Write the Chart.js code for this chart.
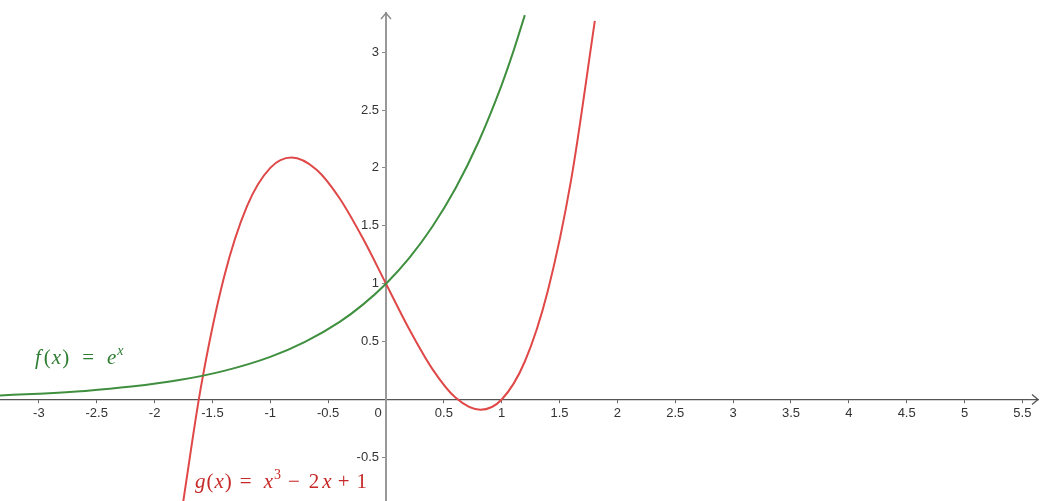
<!DOCTYPE html>
<html>
<head>
<meta charset="utf-8">
<script src="https://cdn.jsdelivr.net/npm/chart.js@4/dist/chart.umd.min.js"></script>
<style>
body{margin:0;background:#fff;}
#wrap{width:1045px;height:501px;position:relative;}
</style>
</head>
<body>
<div id="wrap"><canvas id="grafica"></canvas></div>
<script>
// f(x) = e^x
const fX=[-3.34,-3.0,-2.6,-2.2,-1.8,-1.4,-1.0,-0.7,-0.4,-0.2,0,0.2,0.4,0.6,0.8,1.0,1.1,1.2];
const fY=[0.035,0.050,0.074,0.111,0.165,0.247,0.368,0.497,0.670,0.819,1.0,1.221,1.492,1.822,2.226,2.718,3.004,3.32];

// g(x) = x^3 - 2x + 1
const gX=[-1.76,-1.6,-1.4,-1.2,-1.0,-0.816,-0.6,-0.4,-0.2,0,0.2,0.4,0.6,0.816,1.0,1.2,1.4,1.6,1.805];
const gY=[-0.932,0.104,1.056,1.672,2.0,2.089,1.984,1.736,1.392,1.0,0.608,0.264,0.016,-0.089,0,0.328,0.944,1.896,3.27];

const xRange=[-3.336,5.635];
const yRange=[-0.877,3.338];
const tickStep=0.5;

const verde='#3f8f3f';
const rojo='#e04848';

function puntos(xs,ys){
    return xs.map((x,i)=>({x:x,y:ys[i]}));
}

// etiquetas tipo latex (g = hueco antes de cada trozo)
const etiquetaF=[
    {t:'f',i:true,g:0},{t:'(',g:3},{t:'x',i:true,g:1},{t:')',g:1},{t:'=',g:13},{t:'e',i:true,g:13},{t:'x',i:true,sup:true,g:1}
];
const etiquetaG=[
    {t:'g',i:true,g:0},{t:'(',g:1},{t:'x',i:true,g:1},{t:')',g:1},{t:'=',g:8},{t:'x',i:true,g:12},{t:'3',sup:true,g:1},
    {t:'−',g:7},{t:'2',g:9},{t:'x',i:true,g:3},{t:'+',g:6},{t:'1',g:7}
];

function escribir(ctx,partes,x,y,color){
    ctx.save();
    ctx.fillStyle=color;
    ctx.textBaseline='alphabetic';
    partes.forEach(p=>{
        let size=p.sup?14:21;
        ctx.font=(p.i?'italic ':'')+size+'px "Liberation Serif", "DejaVu Serif", serif';
        x+=p.g;
        ctx.fillText(p.t,x,p.sup?y-9:y);
        x+=ctx.measureText(p.t).width;
    });
    ctx.restore();
}

const extras={
    id:'extras',
    beforeDraw(chart){
        // etiquetas del eje y a la izquierda del eje, el 0 del eje x un poco a la izquierda
        chart.scales.y.getLabelItems().forEach(it=>{
            it.options.translation[0]-=7;
        });
        chart.scales.x.getLabelItems().forEach(it=>{
            if(it.label==='0') it.options.translation[0]-=8;
        });
    },
    afterDraw(chart){
        const ctx=chart.ctx;
        const a=chart.chartArea;
        const x0=chart.scales.x.getPixelForValue(0);
        const y0=chart.scales.y.getPixelForValue(0);
        ctx.save();
        ctx.lineWidth=1.3;
        ctx.strokeStyle='#888';
        ctx.beginPath();
        ctx.moveTo(x0-5,a.top+6);
        ctx.lineTo(x0,a.top);
        ctx.lineTo(x0+5,a.top+6);
        ctx.stroke();
        ctx.strokeStyle='#555';
        ctx.beginPath();
        ctx.moveTo(a.right-6,y0-5);
        ctx.lineTo(a.right,y0);
        ctx.lineTo(a.right-6,y0+5);
        ctx.stroke();
        ctx.restore();
        escribir(ctx,etiquetaF,35,364,'#2e7d32');
        escribir(ctx,etiquetaG,195,488,'#c62828');
    }
};

window.onload=function(){
    const ctx=document.getElementById("grafica");
    new Chart(ctx,{
        type:'scatter',
        data:{
            datasets:[{
                data:puntos(fX,fY),
                showLine:true,
                borderColor:verde,
                borderWidth:2,
                pointRadius:0,
                cubicInterpolationMode:'monotone'
            },{
                data:puntos(gX,gY),
                showLine:true,
                borderColor:rojo,
                borderWidth:2,
                pointRadius:0,
                cubicInterpolationMode:'monotone'
            }]
        },
        options:{
            responsive:true,
            maintainAspectRatio:false,
            animation:false,
            layout:{padding:{top:13,right:7,left:0,bottom:0}},
            plugins:{legend:{display:false},tooltip:{enabled:false}},
            scales:{
                x:{
                    type:'linear',
                    position:{y:0},
                    min:xRange[0],
                    max:xRange[1],
                    grid:{drawOnChartArea:false,tickLength:3,color:'#666'},
                    border:{color:'#555',width:1.2},
                    ticks:{
                        stepSize:tickStep,
                        includeBounds:false,
                        autoSkip:false,
                        maxRotation:0,
                        padding:3,
                        color:'#333',
                        font:{family:'"Liberation Sans", Arial, sans-serif',size:13},
                        callback:v=>String(v)
                    }
                },
                y:{
                    type:'linear',
                    position:{x:0},
                    min:yRange[0],
                    max:yRange[1],
                    grid:{drawOnChartArea:false,tickLength:3,color:'#888'},
                    border:{color:'#999',width:2},
                    afterFit(scale){
                        scale.paddingTop=0;
                        scale.paddingBottom=0;
                    },
                    ticks:{
                        stepSize:tickStep,
                        includeBounds:false,
                        autoSkip:false,
                        padding:0,
                        color:'#333',
                        font:{family:'"Liberation Sans", Arial, sans-serif',size:13},
                        callback:v=>v===0?'':String(v)
                    }
                }
            }
        },
        plugins:[extras]
    });
};
</script>
</body>
</html>
